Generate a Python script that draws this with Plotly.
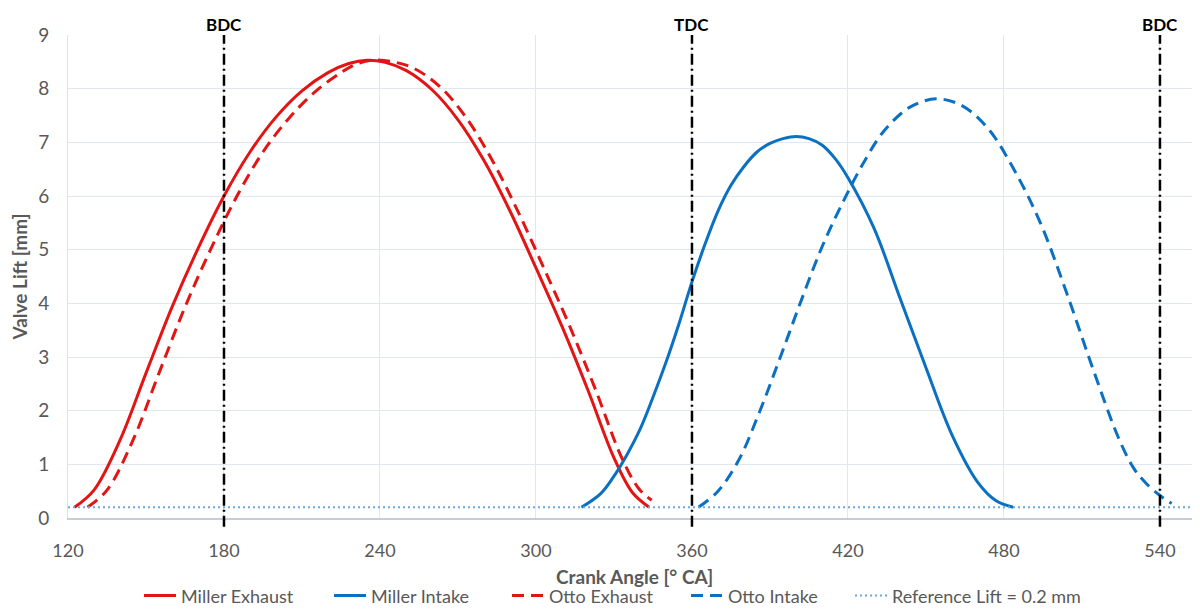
import plotly.graph_objects as go

# ---- data (crank angle [deg CA], valve lift [mm]) ----
miller_exh_x = [122.5, 130, 140, 150, 160, 170, 180, 190, 200, 210, 220, 228, 235, 242, 250, 260, 270, 280, 290, 300, 310, 320, 330, 337, 343.5]
miller_exh_y = [0.2, 0.52, 1.45, 2.7, 3.93, 5.02, 6.0, 6.82, 7.47, 7.96, 8.3, 8.47, 8.53, 8.49, 8.34, 7.98, 7.42, 6.66, 5.72, 4.66, 3.57, 2.38, 1.12, 0.48, 0.2]

otto_exh_x = [127.5, 135, 145, 155, 165, 175, 185, 195, 205, 215, 225, 231, 237, 245, 253, 263, 273, 283, 293, 303, 313, 323, 333, 339.5, 344.5]
otto_exh_y = [0.2, 0.52, 1.45, 2.7, 3.93, 5.02, 6.0, 6.82, 7.45, 7.94, 8.3, 8.46, 8.53, 8.5, 8.38, 8.04, 7.47, 6.68, 5.72, 4.66, 3.57, 2.38, 1.12, 0.55, 0.33]

miller_int_x = [317.5, 325, 330, 335, 340, 345, 350, 355, 360, 365, 370, 375, 380, 385, 390, 395, 400, 405, 410, 415, 420, 430, 440, 450, 460, 470, 477, 483.5]
miller_int_y = [0.2, 0.46, 0.78, 1.18, 1.65, 2.25, 2.9, 3.62, 4.4, 5.1, 5.72, 6.2, 6.55, 6.82, 6.98, 7.07, 7.11, 7.07, 6.95, 6.7, 6.34, 5.4, 4.1, 2.8, 1.55, 0.66, 0.32, 0.2]

otto_int_x = [362.5, 370, 378, 386, 394, 402, 410, 418, 426, 434, 444, 454, 464, 474, 484, 494, 504, 514, 524, 530, 535, 540, 544.5]
otto_int_y = [0.2, 0.5, 1.08, 1.98, 3.0, 4.05, 5.05, 5.88, 6.62, 7.22, 7.66, 7.81, 7.68, 7.25, 6.48, 5.5, 4.21, 2.81, 1.5, 0.92, 0.63, 0.42, 0.27]

ref_lift = 0.2
x_min, x_max = 120, 555.4
y_min, y_max = 0, 9
x_ticks = [120, 180, 240, 300, 360, 420, 480, 540]
y_ticks = [0, 1, 2, 3, 4, 5, 6, 7, 8, 9]

dead_centers_x = [180, 360, 540]
dead_centers_lbl = ["BDC", "TDC", "BDC"]

x_title = "Crank Angle [° CA]"
y_title = "Valve Lift [mm]"

RED = "#e31414"
BLUE = "#0a70c2"
REF_BLUE = "#6aa8de"
GRAY = "#595959"
FONT = "Lato"

# page body has an 8px margin: figure is sized to end exactly at the window edge
FIG_W, FIG_H = 1192, 601

# legend entry left positions (px within the figure)
legend_left_px = [131, 321, 499, 678, 842]

fig = go.Figure()

fig.add_trace(go.Scatter(x=miller_exh_x, y=miller_exh_y, mode="lines", name="Miller Exhaust", legend="legend",
                         line=dict(color=RED, width=3, shape="spline", smoothing=1)))
fig.add_trace(go.Scatter(x=miller_int_x, y=miller_int_y, mode="lines", name="Miller Intake", legend="legend2",
                         line=dict(color=BLUE, width=3, shape="spline", smoothing=1)))
fig.add_trace(go.Scatter(x=otto_exh_x, y=otto_exh_y, mode="lines", name="Otto Exhaust", legend="legend3",
                         line=dict(color=RED, width=3, dash="12px,7px", shape="spline", smoothing=1)))
fig.add_trace(go.Scatter(x=otto_int_x, y=otto_int_y, mode="lines", name="Otto Intake", legend="legend4",
                         line=dict(color=BLUE, width=3, dash="12px,7px", shape="spline", smoothing=1)))
fig.add_trace(go.Scatter(x=[x_min, x_max], y=[ref_lift, ref_lift], mode="lines",
                         name="Reference Lift = 0.2 mm", legend="legend5",
                         line=dict(color=REF_BLUE, width=2, dash="2px,3px")))

for xv, lbl in zip(dead_centers_x, dead_centers_lbl):
    fig.add_shape(type="line", xref="x", yref="paper", x0=xv, x1=xv, y0=-0.018, y1=1.0,
                  line=dict(color="black", width=2.5, dash="11px,4px,2px,4px"), layer="above")
    fig.add_annotation(x=xv, xref="x", y=1.0, yref="paper", yanchor="bottom", text=f"<b>{lbl}</b>",
                       showarrow=False, font=dict(family=FONT, size=17, color="black"), yshift=-2)

# x-axis title placed below the tick labels
fig.add_annotation(x=0.5, xref="paper", y=-0.122, yref="paper", xanchor="center", yanchor="middle",
                   text=f"<b>{x_title}</b>", showarrow=False, font=dict(family=FONT, size=19, color=GRAY))

legend_common = dict(orientation="h", xref="container", xanchor="left",
                     yref="container", y=0.022, yanchor="middle",
                     font=dict(family=FONT, size=18, color=GRAY), itemwidth=32,
                     bgcolor="rgba(0,0,0,0)")
legend_keys = ["legend", "legend2", "legend3", "legend4", "legend5"]

fig.update_layout(
    width=FIG_W, height=FIG_H,
    margin=dict(l=60, r=0, t=27, b=91, autoexpand=False),
    paper_bgcolor="white", plot_bgcolor="white",
    font=dict(family=FONT, color=GRAY, size=18),
    showlegend=True,
    **{k: dict(legend_common, x=px / FIG_W) for k, px in zip(legend_keys, legend_left_px)},
)

fig.update_xaxes(range=[x_min, x_max], tickvals=x_ticks, showgrid=True, gridcolor="#e2e6ee", gridwidth=1,
                 zeroline=False, showline=True, linecolor="#c8ccd4", linewidth=1.5, automargin=False,
                 ticks="", ticklabelstandoff=16, tickfont=dict(size=18, color=GRAY))
fig.update_yaxes(range=[y_min, y_max], tickvals=y_ticks, showgrid=True, gridcolor="#e2e6ee", gridwidth=1,
                 zeroline=False, showline=True, linecolor="#dde1e8", linewidth=1, automargin=False,
                 ticks="", ticklabelstandoff=14, tickfont=dict(size=19, color=GRAY),
                 title=dict(text=f"<b>{y_title}</b>", font=dict(size=19, color=GRAY), standoff=6))

fig.write_html("out.html")
